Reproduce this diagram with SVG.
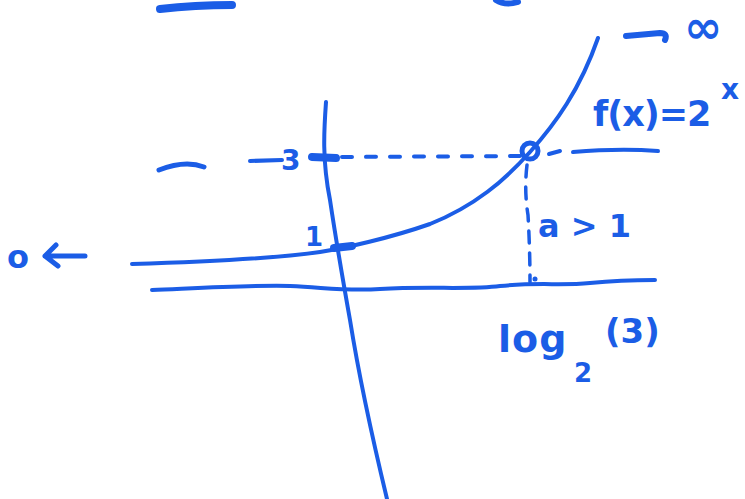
<svg xmlns="http://www.w3.org/2000/svg" width="745" height="499" viewBox="0 0 745 499">
<style>
.s{fill:none;stroke:#1b5de6;stroke-linecap:round;stroke-linejoin:round}
.t{fill:#1b5de6;font-family:"DejaVu Sans","Liberation Sans",sans-serif;font-weight:bold}
</style>
<rect width="745" height="499" fill="#fff"/>
<g id="marks">
<path class="s" stroke-width="8" d="M160,9 Q195,5 232,5"/>
<path class="s" stroke-width="6" d="M496,0 Q505,6 518,2"/>
<path class="s" stroke-width="5" d="M159,170 Q185,160 204,167"/>
</g>
<g id="axes">
<path id="y-axis" class="s" stroke-width="4" d="M326,102 C324,130 322,160 330,200 C336,240 342,275 350,320 C358,370 368,420 387,499"/>
<path id="x-axis" class="s" stroke-width="4" d="M152,290 C200,288 250,285 290,286 C330,288 345,291 380,289 C430,286 470,290 500,286 C540,282 560,286 590,283 C620,280 640,280 655,280"/>
</g>
<g id="curve">
<path class="s" stroke-width="4" d="M132,264 C200,262 270,259 320,252 C345,248 390,238 430,224 C475,206 505,180 530,152 C555,124 580,90 598,38"/>
</g>
<g id="connectors">
<path class="s" stroke-width="4" stroke-dasharray="10 14" d="M342,157 L520,156"/>
<path class="s" stroke-width="4" d="M549,154 L560,151"/>
<path class="s" stroke-width="4" d="M573,152 Q620,148 658,151"/>
<path class="s" stroke-width="3.5" stroke-dasharray="12 10" d="M527,165 Q524,190 528,215 Q530,250 530,282"/>
</g>
<g id="points">
<circle cx="530" cy="151" r="8" class="s" stroke-width="5"/>
<path class="s" stroke-width="8" d="M312,157 L336,158"/>
<path class="s" stroke-width="8" d="M334,248 L352,246"/>
<circle cx="535" cy="279" r="2.5" fill="#1b5de6"/>
</g>
<g id="labels">
<path class="s" stroke-width="4" d="M250,161 L282,160"/>
<text class="t" x="281" y="170" font-size="28">3</text>
<text class="t" x="305" y="246" font-size="26">1</text>
<text class="t" x="7" y="268" font-size="32">o</text>
<path class="s" stroke-width="5" d="M45,256 L85,256 M56,245 L45,256 L58,266"/>
<path class="s" stroke-width="6" d="M626,36 L660,33 Q668,33 665,40"/>
<text class="t" x="684" y="43" font-size="46">∞</text>
<text class="t" x="593" y="126" font-size="35" letter-spacing="-1">f(x)=2</text>
<text class="t" x="721" y="99" font-size="28">x</text>
<text class="t" x="538" y="237" font-size="32">a &gt; 1</text>
<text class="t" x="498" y="352" font-size="38" letter-spacing="1">log</text>
<text class="t" x="574" y="382" font-size="26">2</text>
<text class="t" x="605" y="343" font-size="34">(3)</text>
</g>
</svg>
